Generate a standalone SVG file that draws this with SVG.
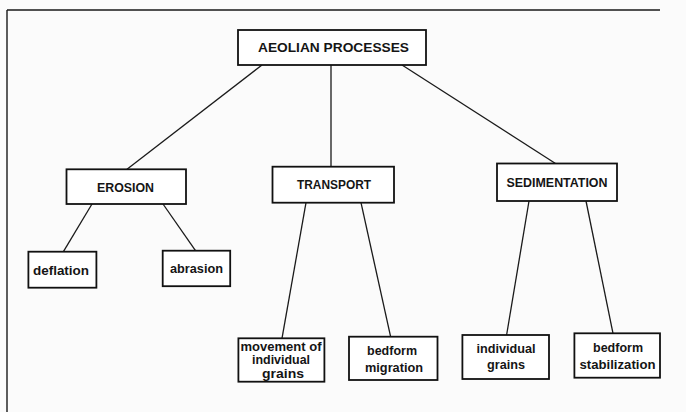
<svg xmlns="http://www.w3.org/2000/svg" width="686" height="412" viewBox="0 0 686 412">
<style>
.bg{fill:#fbfbfb}
.box{fill:#ffffff;stroke:#111;stroke-width:1.8}
.ln{stroke:#1a1a1a;stroke-width:1.3;fill:none}
.fr{stroke:#1a1a1a;stroke-width:1.4;fill:none}
text{font-family:"Liberation Sans Narrow","Liberation Sans",Arial,sans-serif;font-weight:bold;fill:#151515;text-anchor:middle}
.up{font-size:12.5px}
.lo{font-size:12px}
</style>
<rect class="bg" x="0" y="0" width="686" height="412"/>
<g id="frame">
<path class="fr" d="M7,10 H660 M7,10 V412"/>
</g>
<g id="connectors">
<line class="ln" x1="262" y1="65" x2="127" y2="169.3"/>
<line class="ln" x1="331" y1="65" x2="331" y2="166.7"/>
<line class="ln" x1="402" y1="65" x2="555.5" y2="163.5"/>
<line class="ln" x1="92" y1="204" x2="63.4" y2="251.7"/>
<line class="ln" x1="163" y1="204" x2="195.5" y2="250.7"/>
<line class="ln" x1="306" y1="202.7" x2="282" y2="338.3"/>
<line class="ln" x1="361" y1="202.7" x2="390.6" y2="336.7"/>
<line class="ln" x1="529" y1="201" x2="506.6" y2="335"/>
<line class="ln" x1="586" y1="201" x2="613" y2="333.3"/>
</g>
<g id="aeolian">
<rect class="box" x="238" y="30" width="188" height="35"/>
<text class="up" x="333.5" y="51.7" textLength="151" lengthAdjust="spacingAndGlyphs">AEOLIAN PROCESSES</text>
</g>
<g id="erosion">
<rect class="box" x="66.5" y="169.3" width="119.5" height="34.7"/>
<text class="up" x="125.5" y="191.5" textLength="57" lengthAdjust="spacingAndGlyphs">EROSION</text>
</g>
<g id="transport">
<rect class="box" x="272.5" y="166.7" width="121.5" height="36"/>
<text class="up" x="334" y="188.5" textLength="74" lengthAdjust="spacingAndGlyphs">TRANSPORT</text>
</g>
<g id="sedimentation">
<rect class="box" x="497" y="163.5" width="120" height="37.5"/>
<text class="up" x="557" y="186.5" textLength="101" lengthAdjust="spacingAndGlyphs">SEDIMENTATION</text>
</g>
<g id="deflation">
<rect class="box" x="28.4" y="251.7" width="68" height="36"/>
<text class="lo" x="61" y="275" textLength="56" lengthAdjust="spacingAndGlyphs">deflation</text>
</g>
<g id="abrasion">
<rect class="box" x="162.7" y="250.7" width="67.5" height="35.5"/>
<text class="lo" x="196.5" y="272.5" textLength="53" lengthAdjust="spacingAndGlyphs">abrasion</text>
</g>
<g id="movement">
<rect class="box" x="238.4" y="338.3" width="86" height="43.4"/>
<text class="lo" x="281" y="350.5" textLength="81" lengthAdjust="spacingAndGlyphs">movement of</text>
<text class="lo" x="281" y="364" textLength="58" lengthAdjust="spacingAndGlyphs">individual</text>
<text class="lo" x="283" y="377.5" textLength="42" lengthAdjust="spacingAndGlyphs">grains</text>
</g>
<g id="bedform-migration">
<rect class="box" x="349" y="336.7" width="88.5" height="43.3"/>
<text class="lo" x="392" y="355" textLength="50" lengthAdjust="spacingAndGlyphs">bedform</text>
<text class="lo" x="394" y="371.5" textLength="58" lengthAdjust="spacingAndGlyphs">migration</text>
</g>
<g id="individual-grains">
<rect class="box" x="462.4" y="335" width="86.6" height="44"/>
<text class="lo" x="506" y="352.5" textLength="59" lengthAdjust="spacingAndGlyphs">individual</text>
<text class="lo" x="506" y="368.5" textLength="38" lengthAdjust="spacingAndGlyphs">grains</text>
</g>
<g id="bedform-stabilization">
<rect class="box" x="574.4" y="333.3" width="85.6" height="44.4"/>
<text class="lo" x="618" y="352" textLength="50" lengthAdjust="spacingAndGlyphs">bedform</text>
<text class="lo" x="617.5" y="369" textLength="76" lengthAdjust="spacingAndGlyphs">stabilization</text>
</g>
</svg>
